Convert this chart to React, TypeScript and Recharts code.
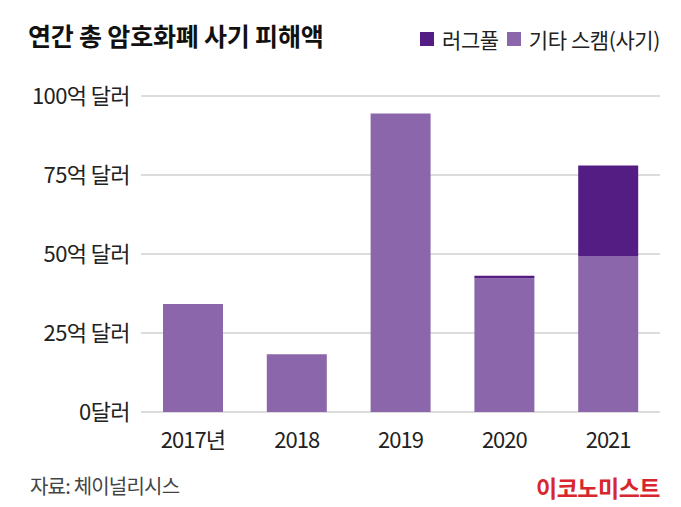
import { Bar, BarChart, CartesianGrid, XAxis, YAxis } from "recharts";

// 연간 암호화폐 사기 피해액 (단위: 억 달러)
const years = ["2017년", "2018", "2019", "2020", "2021"];
const otherScam = [34.2, 18.3, 94.5, 42.3, 49.2];
const rugPull = [0, 0, 0, 0.8, 28.8];
const yTicks = [0, 25, 50, 75, 100];

const series = [
  { key: "rug", name: "러그풀", color: "#541d84" },
  { key: "other", name: "기타 스캠(사기)", color: "#8c66aa" },
];

const data = years.map((year, i) => ({
  year,
  other: otherScam[i],
  rug: rugPull[i],
}));

const KR = "'Noto Sans CJK KR', sans-serif";

const tickLabel = (v: number) => (v === 0 ? "0달러" : `${v}억 달러`);

const App = () => {
  return (
    <div style={{ position: "absolute", top: 0, left: 0, width: 681, height: 507, background: "#fff" }}>
      <div
        style={{
          position: "absolute",
          left: 28,
          top: 17,
          fontFamily: KR,
          fontWeight: 700,
          fontSize: 25,
          letterSpacing: -0.2,
          color: "#111",
          zIndex: 1,
        }}
      >
        연간 총 암호화폐 사기 피해액
      </div>
      <div
        style={{
          position: "absolute",
          right: 21,
          top: 24,
          display: "flex",
          alignItems: "center",
          fontFamily: KR,
          fontSize: 21,
          color: "#222",
          zIndex: 1,
        }}
      >
        {series.map((s) => (
          <div key={s.key} style={{ display: "flex", alignItems: "center", marginLeft: 8 }}>
            <span style={{ width: 14, height: 14, background: s.color, display: "inline-block", marginRight: 8 }} />
            <span style={{ letterSpacing: -0.4 }}>{s.name}</span>
          </div>
        ))}
      </div>
      <BarChart
        width={681}
        height={507}
        data={data}
        margin={{ top: 96, right: 21, left: 0, bottom: 55 }}
      >
        <CartesianGrid vertical={false} stroke="#d0d0d0" strokeWidth={1.5} />
        <XAxis
          dataKey="year"
          axisLine={false}
          tickLine={false}
          height={40}
          tickMargin={14}
          tick={{ fontFamily: KR, fontSize: 22, fill: "#222", letterSpacing: -1 }}
        />
        <YAxis
          width={141}
          domain={[0, 100]}
          ticks={yTicks}
          tickFormatter={tickLabel}
          axisLine={false}
          tickLine={false}
          tickSize={0}
          tickMargin={11}
          tick={{ fontFamily: KR, fontSize: 22, fill: "#222", letterSpacing: -0.6 }}
        />
        <Bar dataKey="other" name="기타 스캠(사기)" stackId="a" fill="#8c66aa" barSize={60} isAnimationActive={false} />
        <Bar dataKey="rug" name="러그풀" stackId="a" fill="#541d84" barSize={60} isAnimationActive={false} />
      </BarChart>
      <div style={{ position: "absolute", left: 30, top: 471, fontFamily: KR, fontSize: 20, color: "#444", letterSpacing: -0.8 }}>
        자료: 체이널리시스
      </div>
      <div
        style={{
          position: "absolute",
          right: 21,
          top: 470,
          fontFamily: KR,
          fontWeight: 700,
          fontSize: 23,
          color: "#d8262e",
          letterSpacing: -0.5,
        }}
      >
        이코노미스트
      </div>
    </div>
  );
};

export default App;
